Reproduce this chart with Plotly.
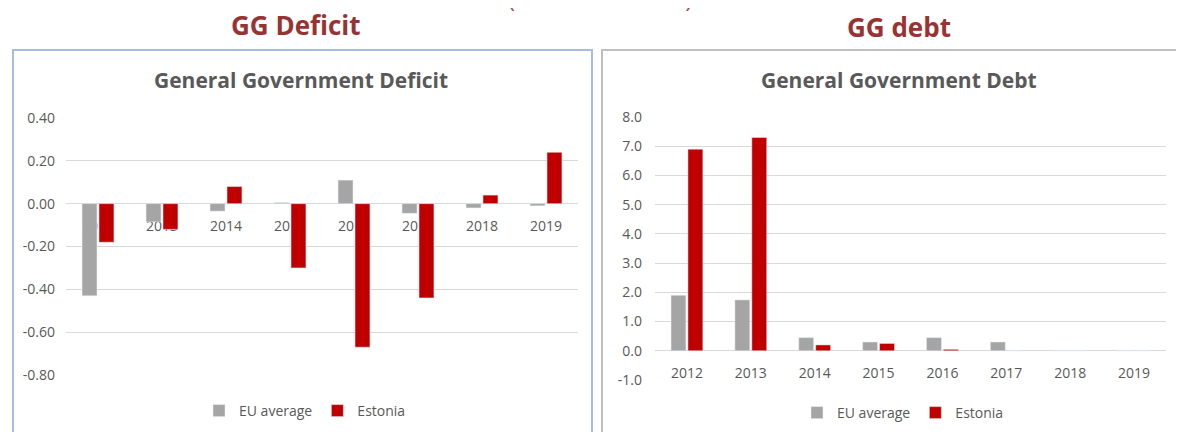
import plotly.graph_objects as go

W, H = 1184, 432
OFF = 8  # default body margin of the html page

years = ['2012', '2013', '2014', '2015', '2016', '2017', '2018', '2019']

# General Government Deficit
deficit_eu = [-0.43, -0.085, -0.035, 0.005, 0.11, -0.045, -0.02, -0.01]
deficit_est = [-0.18, -0.12, 0.08, -0.30, -0.67, -0.44, 0.04, 0.24]
deficit_ticks = [0.4, 0.2, 0.0, -0.2, -0.4, -0.6, -0.8]
deficit_ticktext = ['0.40', '0.20', '0.00', '-0.20', '-0.40', '-0.60', '-0.80']

# General Government Debt
debt_eu = [1.9, 1.74, 0.45, 0.3, 0.45, 0.3, 0.0, 0.0]
debt_est = [6.9, 7.3, 0.2, 0.25, 0.05, 0.0, 0.0, 0.0]
debt_ticks = [8, 7, 6, 5, 4, 3, 2, 1, 0, -1]
debt_ticktext = ['8.0', '7.0', '6.0', '5.0', '4.0', '3.0', '2.0', '1.0', '0.0', '-1.0']

GREY = '#a5a5a5'
RED = '#c00000'
TXT = '#595959'
GRID = '#d9d9d9'
FONT = 'Open Sans'


def px_x(p):
    return (p - OFF) / W


def px_y(p):
    return 1 - (p - OFF) / H


def zero_pos(dom, rng):
    return dom[0] + (0 - rng[0]) / (rng[1] - rng[0]) * (dom[1] - dom[0])


left_xdom = [px_x(66), px_x(578)]
left_ydom = [px_y(375), px_y(118)]
left_rng = [-0.8, 0.4]
right_xdom = [px_x(655), px_x(1166)]
right_ydom = [px_y(380), px_y(117)]
right_rng = [-1, 8]

fig = go.Figure()

fig.add_trace(go.Bar(x=years, y=deficit_eu, name='EU average', marker_color=GREY,
                     xaxis='x', yaxis='y', legend='legend'))
fig.add_trace(go.Bar(x=years, y=deficit_est, name='Estonia', marker_color=RED,
                     xaxis='x', yaxis='y', legend='legend'))
fig.add_trace(go.Bar(x=years, y=debt_eu, name='EU average', marker_color=GREY,
                     xaxis='x2', yaxis='y2', legend='legend2'))
fig.add_trace(go.Bar(x=years, y=debt_est, name='Estonia', marker_color=RED,
                     xaxis='x2', yaxis='y2', legend='legend2'))

tickfont = dict(family=FONT, size=14, color=TXT)

fig.update_layout(
    width=W, height=H,
    margin=dict(l=0, r=0, t=0, b=0, pad=0, autoexpand=False),
    paper_bgcolor='white', plot_bgcolor='white',
    barmode='group', bargap=0.47, bargroupgap=0.12,
    showlegend=True,
    xaxis=dict(domain=left_xdom, anchor='free', position=zero_pos(left_ydom, left_rng),
               showgrid=False, showline=False, ticks='', tickfont=tickfont,
               ticklabelstandoff=12, layer='below traces', automargin=False),
    yaxis=dict(domain=left_ydom, anchor='x', range=left_rng,
               tickvals=deficit_ticks, ticktext=deficit_ticktext,
               showgrid=True, gridcolor=GRID, gridwidth=1,
               zeroline=True, zerolinecolor=GRID, zerolinewidth=1,
               showline=False, ticks='', tickfont=tickfont, ticklabelstandoff=10,
               automargin=False),
    xaxis2=dict(domain=right_xdom, anchor='free', position=zero_pos(right_ydom, right_rng),
                showgrid=False, showline=False, ticks='', tickfont=tickfont,
                ticklabelstandoff=12, automargin=False),
    yaxis2=dict(domain=right_ydom, anchor='x2', range=right_rng,
                tickvals=debt_ticks, ticktext=debt_ticktext,
                showgrid=True, gridcolor=GRID, gridwidth=1,
                zeroline=True, zerolinecolor=GRID, zerolinewidth=1,
                showline=False, ticks='', tickfont=tickfont, ticklabelstandoff=12,
                automargin=False),
    legend=dict(orientation='h', x=px_x(305), xanchor='center', y=px_y(411), yanchor='middle',
                font=dict(family=FONT, size=14, color=TXT), itemwidth=30,
                bgcolor='rgba(0,0,0,0)', tracegroupgap=0),
    legend2=dict(orientation='h', x=px_x(903), xanchor='center', y=px_y(413), yanchor='middle',
                 font=dict(family=FONT, size=14, color=TXT), itemwidth=30,
                 bgcolor='rgba(0,0,0,0)', tracegroupgap=0),
)

# panel borders
fig.add_shape(type='rect', xref='paper', yref='paper',
              x0=px_x(13), x1=px_x(592), y0=px_y(445), y1=px_y(50),
              line=dict(color='#a7bde0', width=2), fillcolor='rgba(0,0,0,0)')
fig.add_shape(type='rect', xref='paper', yref='paper',
              x0=px_x(602), x1=px_x(1200), y0=px_y(445), y1=px_y(50),
              line=dict(color='#bfbfbf', width=2), fillcolor='rgba(0,0,0,0)')

# headings (the top line is cut off by the page edge in the reference)
fig.add_annotation(text='(Percent of GDP)', xref='paper', yref='paper',
                   x=px_x(600), y=px_y(16), xanchor='center', yanchor='bottom',
                   showarrow=False, font=dict(family=FONT, size=24, color='#a9504e'))
fig.add_annotation(text='<b>GG Deficit</b>', xref='paper', yref='paper',
                   x=px_x(296), y=px_y(25), xanchor='center', yanchor='middle',
                   showarrow=False, font=dict(family=FONT, size=26, color='#993333'))
fig.add_annotation(text='<b>GG debt</b>', xref='paper', yref='paper',
                   x=px_x(899), y=px_y(27), xanchor='center', yanchor='middle',
                   showarrow=False, font=dict(family=FONT, size=26, color='#993333'))

# chart titles
fig.add_annotation(text='<b>General Government Deficit</b>', xref='paper', yref='paper',
                   x=px_x(301), y=px_y(80), xanchor='center', yanchor='middle',
                   showarrow=False, font=dict(family=FONT, size=21, color=TXT))
fig.add_annotation(text='<b>General Government Debt</b>', xref='paper', yref='paper',
                   x=px_x(899), y=px_y(80), xanchor='center', yanchor='middle',
                   showarrow=False, font=dict(family=FONT, size=21, color=TXT))

fig.write_html('out.html')
